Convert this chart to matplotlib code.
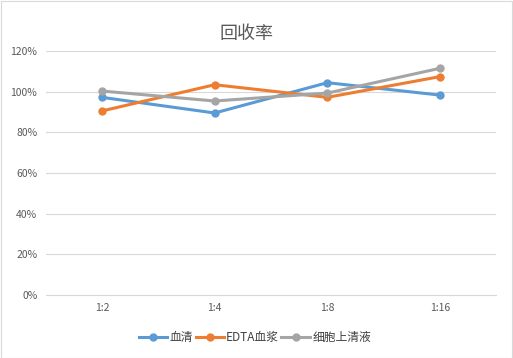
import matplotlib.pyplot as plt
from matplotlib.patches import Rectangle
from matplotlib.ticker import PercentFormatter

plt.rcParams['font.family'] = ['Noto Sans CJK SC', 'DejaVu Sans']

# data
categories = ["1:2", "1:4", "1:8", "1:16"]
serum = [97.2, 89.5, 104.4, 98.3]
edta_plasma = [90.5, 103.4, 97.2, 107.4]
supernatant = [100.3, 95.4, 99.3, 111.5]
series_names = ["血清", "EDTA血浆", "细胞上清液"]
colors = ["#5B9BD5", "#ED7D31", "#A5A5A5"]

fig = plt.figure(figsize=(5.13, 3.58), dpi=100)
ax = fig.add_axes([0.0889, 0.176, 0.8788, 0.6816])

x = range(len(categories))
for vals, name, c in zip([serum, edta_plasma, supernatant], series_names, colors):
    ax.plot(x, vals, color=c, lw=2.2, marker="o", ms=5, label=name)

ax.set_xlim(-0.5, len(categories) - 0.5)
ax.set_ylim(0, 120)
ax.set_yticks(range(0, 121, 20))
ax.yaxis.set_major_formatter(PercentFormatter(decimals=0))
ax.set_xticks(list(x))
ax.set_xticklabels(categories)
ax.grid(axis="y", color="#D9D9D9", lw=0.8)
ax.set_axisbelow(True)
for s in ["top", "left", "right"]:
    ax.spines[s].set_visible(False)
ax.spines["bottom"].set_color("#D9D9D9")
ax.tick_params(length=0, labelsize=7.5, colors="#595959", pad=6)

fig.text(0.48, 0.906, "回收率", ha="center", va="center", fontsize=13, color="#595959")
fig.legend(loc="center", bbox_to_anchor=(0.497, 0.056), ncol=3, frameon=False,
           fontsize=8.5, handlelength=2.4, columnspacing=0.2, handletextpad=0.2,
           labelcolor="#404040")

fig.patches.append(Rectangle((0.001, 0.001), 0.997, 0.996, transform=fig.transFigure,
                             fill=False, edgecolor="#D9D9D9", lw=0.8))

fig.savefig("out.png", dpi=100)
